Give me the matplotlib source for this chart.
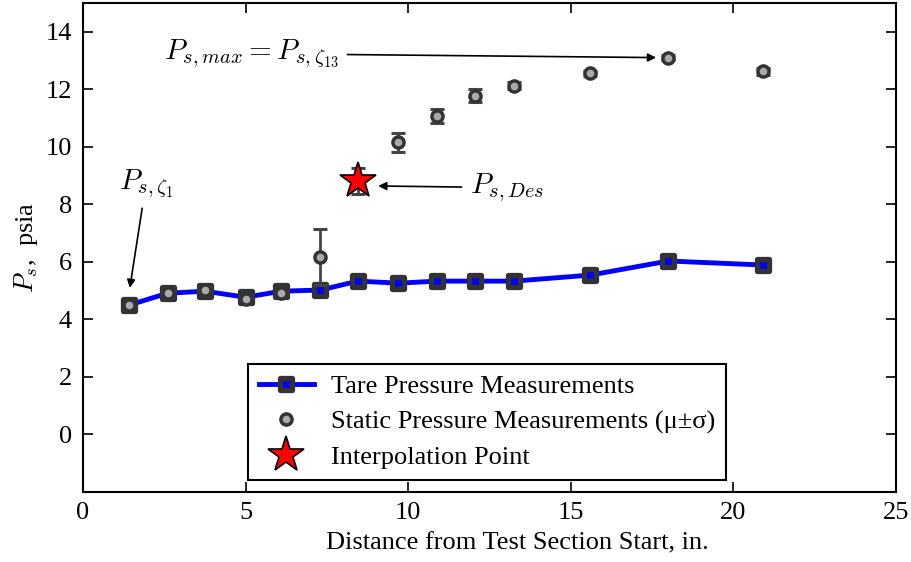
import matplotlib
matplotlib.use("Agg")
import matplotlib.pyplot as plt
from matplotlib.markers import MarkerStyle

plt.rcParams['font.family'] = ['Liberation Serif', 'DejaVu Serif']
plt.rcParams['mathtext.fontset'] = 'cm'

# positions along the test section, in.
x_pos = [1.4, 2.6, 3.75, 5.0, 6.1, 7.3, 8.45, 9.7, 10.9, 12.05, 13.25, 15.6, 18.0, 20.9]
# tare pressure, psia
tare = [4.49, 4.91, 4.98, 4.77, 4.98, 5.02, 5.33, 5.26, 5.33, 5.33, 5.33, 5.54, 6.03, 5.89]
# static pressure mean and std, psia
static_mean = [4.50, 4.92, 5.01, 4.71, 4.93, 6.18, 8.80, 10.16, 11.08, 11.78, 12.12, 12.55, 13.10, 12.62]
static_std = [0.05, 0.05, 0.05, 0.05, 0.05, 0.97, 0.45, 0.33, 0.25, 0.22, 0.12, 0.10, 0.08, 0.12]
# interpolation point
interp_x = [8.45]
interp_y = [8.8]

fig = plt.figure(figsize=(9.12, 5.62), dpi=100)
ax = fig.add_axes([0.091, 0.1246, 0.8915, 0.8701])

sq = MarkerStyle('s', joinstyle='round')
ax.plot(x_pos, tare, color='#0000ff', lw=3.5, marker=sq, ms=8.5,
        mfc='#0000ff', mec='#333333', mew=3.8, zorder=2,
        label='Tare Pressure Measurements')

ax.errorbar(x_pos, static_mean, yerr=static_std, fmt='none', ecolor='#444444',
            elinewidth=2, capsize=5, capthick=2.2, zorder=3)
ax.plot(x_pos, static_mean, ls='none', marker='o', ms=8, mfc='#aaaaaa',
        mec='#333333', mew=2.5, zorder=3,
        label='Static Pressure Measurements (\u03bc\u00b1\u03c3)')

ax.plot(interp_x, interp_y, ls='none', marker='*', ms=27, mfc='#ff0000',
        mec='black', mew=1.2, zorder=4, label='Interpolation Point')

arrow = dict(arrowstyle='-|>', color='black', lw=1.2, mutation_scale=12,
             shrinkA=4, shrinkB=3)
ax.annotate(r'$P_{s,max} = P_{s,\zeta_{13}}$', xy=(17.75, 13.1), xytext=(2.5, 13.24),
            ha='left', va='center', fontsize=21, arrowprops=arrow)
ax.annotate(r'$P_{s,\zeta_1}$', xy=(1.42, 4.95), xytext=(1.1, 8.72),
            ha='left', va='center', fontsize=21, arrowprops=arrow)
ax.annotate(r'$P_{s,Des}$', xy=(8.95, 8.64), xytext=(11.9, 8.58),
            ha='left', va='center', fontsize=21, arrowprops=arrow)

ax.set_xlim(0, 25)
ax.set_ylim(-2, 15)
ax.set_xticks([0, 5, 10, 15, 20, 25])
ax.set_yticks([0, 2, 4, 6, 8, 10, 12, 14])
ax.tick_params(direction='in', top=True, right=True, length=7, width=1.2,
               labelsize=19)
ax.tick_params(axis='x', pad=7)
ax.tick_params(axis='y', pad=8)
for s in ax.spines.values():
    s.set_linewidth(1.5)

ax.set_xlabel('Distance from Test Section Start, in.', fontsize=19)
ax.xaxis.set_label_coords(0.534, -0.082)
ax.set_ylabel(r'$P_s$,  psia', fontsize=19, labelpad=4)

leg = ax.legend(loc='lower left', bbox_to_anchor=(0.203, 0.025), borderaxespad=0,
                fontsize=19, handlelength=2.1, labelspacing=0.45, borderpad=0.4,
                fancybox=False, framealpha=1, edgecolor='black', handletextpad=0.65)
leg.get_frame().set_linewidth(1.5)

fig.savefig('out.png', dpi=100)
